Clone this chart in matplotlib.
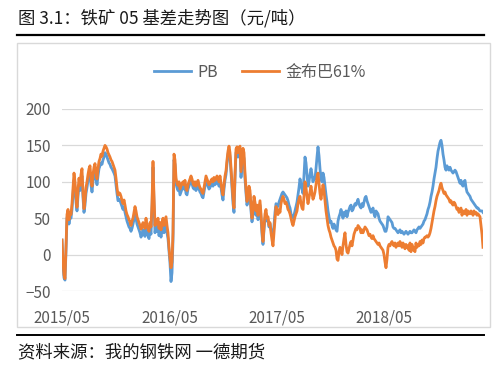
import matplotlib
matplotlib.use("Agg")
import matplotlib.pyplot as plt
import numpy as np
import pandas as pd

plt.rcParams["font.family"] = ["Noto Sans CJK SC", "DejaVu Sans"]

# basis values (yuan/ton), sampled every ~3.4 days from 2015/05
jbb = [20, -10, -28, -33, 10, 55, 62, 48, 58, 55,
       70, 90, 112, 100, 80, 65, 88, 105, 95, 110,
       118, 85, 63, 75, 92, 100, 110, 118, 122, 105,
       94, 110, 120, 125, 112, 104, 118, 128, 132, 138,
       135, 142, 146, 150, 148, 145, 140, 137, 134, 130,
       128, 124, 120, 116, 105, 92, 82, 85, 84, 80,
       74, 70, 75, 68, 60, 55, 52, 48, 45, 40,
       46, 50, 58, 66, 60, 52, 48, 44, 40, 35,
       38, 44, 38, 36, 50, 40, 36, 32, 44, 38,
       70, 128, 80, 40, 48, 42, 50, 36, 44, 34,
       44, 50, 40, 46, 52, 40, 30, 10, -5, -18,
       -10, 30, 138, 130, 105, 98, 95, 100, 90, 94,
       98, 100, 96, 102, 90, 88, 96, 100, 104, 108,
       104, 98, 95, 100, 94, 98, 102, 96, 92, 90,
       86, 84, 92, 100, 108, 104, 100, 96, 98, 102,
       104, 100, 106, 102, 104, 108, 104, 100, 108, 98,
       88, 82, 96, 108, 115, 130, 142, 149, 140, 120,
       98, 78, 64, 110, 145, 148, 140, 146, 149, 114,
       130, 146, 140, 112, 90, 73, 82, 94, 88, 66,
       50, 62, 80, 72, 60, 68, 54, 64, 74, 56,
       34, 18, 38, 56, 62, 50, 52, 40, 44, 30,
       20, 12, 30, 50, 66, 60, 55, 62, 58, 70,
       76, 80, 76, 70, 72, 68, 62, 60, 56, 50,
       44, 40, 46, 52, 56, 60, 70, 76, 80, 70,
       64, 62, 80, 100, 92, 80, 70, 78, 86, 94,
       84, 76, 80, 86, 96, 106, 112, 98, 84, 76,
       86, 96, 88, 74, 60, 50, 40, 34, 30, 24,
       20, 16, 12, 10, 6, -6, -8, 4, 10, 6,
       0, 12, 22, 30, 14, 4, 2, 8, 14, 18,
       12, 20, 28, 32, 36, 34, 40, 38, 36, 30,
       34, 30, 34, 38, 36, 34, 30, 26, 28, 24,
       22, 26, 22, 20, 18, 16, 14, 16, 12, 10,
       8, 6, 0, -10, -18, -6, 10, 14, 12, 16,
       18, 14, 12, 16, 10, 14, 16, 12, 18, 14,
       10, 16, 12, 8, 14, 10, 12, 6, 16, 4,
       14, 10, 6, 4, 16, 10, 14, 12, 18, 14,
       20, 16, 22, 24, 24, 26, 24, 26, 30, 36,
       44, 52, 60, 66, 74, 80, 84, 88, 94, 98,
       92, 88, 84, 86, 82, 80, 78, 76, 72, 74,
       70, 68, 72, 70, 66, 62, 64, 58, 62, 64,
       54, 60, 56, 58, 62, 54, 60, 58, 56, 60,
       58, 54, 60, 56, 58, 54, 56, 54, 52, 40,
       28, 10]

pb = [20, -15, -32, -35, 5, 50, 57, 42, 52, 50,
      62, 82, 102, 92, 72, 60, 80, 96, 88, 100,
      108, 78, 58, 68, 84, 92, 102, 110, 112, 96,
      86, 100, 110, 116, 104, 96, 108, 118, 122, 126,
      124, 130, 134, 140, 138, 134, 130, 126, 124, 120,
      118, 115, 112, 108, 96, 84, 74, 76, 74, 70,
      66, 62, 66, 58, 52, 46, 42, 38, 36, 32,
      36, 42, 48, 56, 50, 42, 38, 34, 30, 24,
      28, 34, 28, 25, 40, 30, 26, 22, 34, 28,
      62, 120, 70, 30, 38, 32, 40, 26, 34, 24,
      34, 40, 30, 36, 42, 30, 22, 5, -12, -37,
      -25, 20, 130, 124, 98, 92, 88, 92, 82, 86,
      90, 94, 90, 96, 84, 82, 90, 94, 98, 102,
      98, 92, 90, 94, 88, 92, 96, 90, 86, 84,
      80, 78, 86, 94, 102, 98, 94, 90, 92, 96,
      98, 94, 100, 96, 98, 102, 98, 94, 102, 92,
      82, 75, 90, 102, 110, 125, 138, 145, 134, 112,
      90, 70, 58, 104, 140, 142, 134, 140, 144, 106,
      124, 138, 132, 104, 84, 68, 76, 88, 82, 60,
      45, 56, 74, 66, 54, 62, 48, 58, 68, 50,
      28, 14, 34, 50, 56, 46, 48, 38, 42, 34,
      30, 26, 40, 58, 70, 68, 66, 72, 76, 80,
      84, 86, 84, 82, 80, 78, 74, 68, 64, 56,
      52, 50, 54, 60, 66, 72, 82, 92, 104, 96,
      90, 84, 110, 134, 126, 110, 94, 100, 110, 118,
      110, 100, 106, 104, 118, 134, 148, 136, 118, 104,
      100, 112, 106, 94, 82, 72, 60, 52, 44, 46,
      40, 36, 42, 38, 34, 32, 46, 52, 56, 62,
      56, 50, 58, 54, 60, 52, 58, 62, 66, 68,
      60, 62, 66, 70, 68, 72, 76, 70, 66, 64,
      70, 66, 72, 78, 80, 74, 70, 66, 62, 58,
      60, 64, 56, 52, 60, 58, 56, 50, 46, 44,
      42, 40, 36, 32, 32, 38, 52, 50, 48, 46,
      44, 38, 36, 36, 34, 32, 30, 32, 34, 30,
      32, 30, 28, 30, 32, 30, 28, 30, 32, 30,
      30, 32, 34, 32, 30, 34, 36, 38, 36, 38,
      40, 42, 46, 48, 52, 56, 62, 66, 72, 80,
      86, 94, 104, 112, 120, 132, 142, 148, 154, 157,
      150, 138, 130, 120, 116, 122, 118, 116, 120, 116,
      114, 112, 114, 116, 114, 110, 106, 102, 98, 102,
      96, 94, 100, 102, 92, 86, 84, 82, 80, 76,
      74, 72, 70, 68, 66, 64, 64, 62, 60, 60,
      60, 58]

tick_dates = ["2015-05-01", "2016-05-01", "2017-05-01", "2018-05-01"]
tick_labels = ["2015/05", "2016/05", "2017/05", "2018/05"]

dates = pd.Timestamp("2015-05-01") + pd.to_timedelta(np.arange(len(pb)) * 3.4, unit="D")

fig = plt.figure(figsize=(5, 3.73), dpi=100)

# title, rule lines and source note
fig.text(0.036, 0.952, "图 3.1：铁矿 05 基差走势图（元/吨）", fontsize=12.5, va="center", color="#1a1a1a")
fig.add_artist(plt.Line2D([0.034, 0.968], [0.906, 0.906], color="black", lw=1.6))
fig.add_artist(plt.Line2D([0.034, 0.968], [0.102, 0.102], color="black", lw=1.4))
fig.text(0.036, 0.056, "资料来源：我的钢铁网 一德期货", fontsize=12.5, va="center", color="#1a1a1a")

# chart frame
frame = plt.Rectangle((0.034, 0.124), 0.946, 0.761, transform=fig.transFigure,
                      fill=False, ec="#d9d9d9", lw=1)
fig.add_artist(frame)

ax = fig.add_axes([0.124, 0.2198, 0.842, 0.488])
ax.plot(dates, pb, color="#5B9BD5", lw=2.0, label="PB")
ax.plot(dates, jbb, color="#ED7D31", lw=2.0, label="金布巴61%")

ax.set_ylim(-50, 200)
ax.set_yticks([-50, 0, 50, 100, 150, 200])
ax.set_xlim(dates[0], dates[-1])
ax.set_xticks(pd.to_datetime(tick_dates))
ax.set_xticklabels(tick_labels)
ax.grid(axis="y", color="#d9d9d9", lw=0.9)
ax.set_axisbelow(True)
for s in ax.spines.values():
    s.set_visible(False)
ax.tick_params(length=0, labelsize=11, colors="#595959", pad=8)
ax.tick_params(axis="x", pad=13)

ax.legend(loc="center", bbox_to_anchor=(0.47, 1.203), ncol=2, frameon=False,
          fontsize=11.5, handlelength=2.3, columnspacing=1.5, handletextpad=0.4,
          labelcolor="#595959")

fig.savefig("out.png", dpi=100)
